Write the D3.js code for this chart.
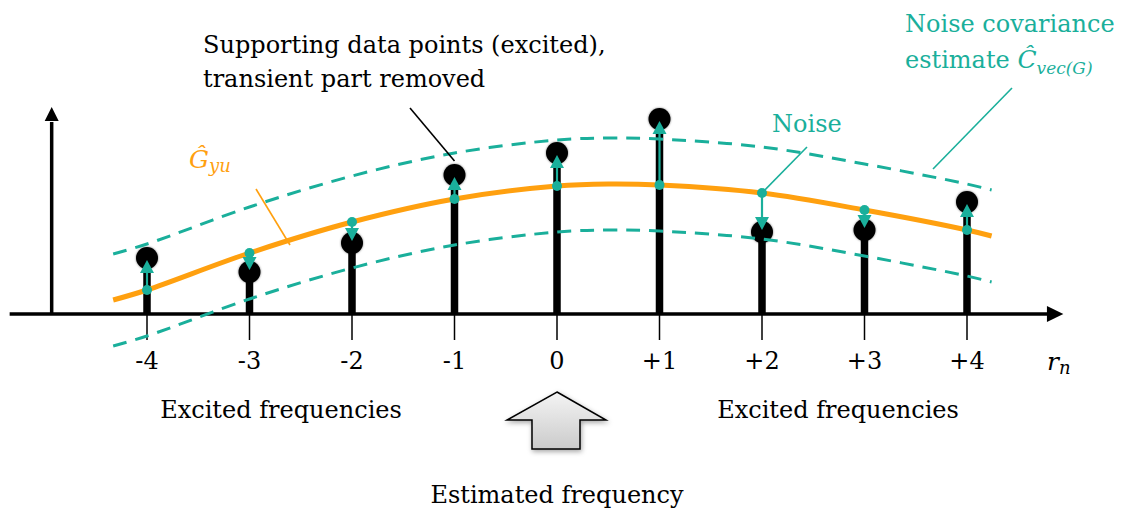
<!DOCTYPE html>
<html>
<head>
<meta charset="utf-8">
<script src="https://cdn.jsdelivr.net/npm/d3@7"></script>
<style>
  body { margin: 0; background: #fff; }
  svg { display: block; }
  text { font-family: "DejaVu Serif", "Liberation Serif", serif; }
</style>
</head>
<body>
<svg id="chart" width="1121" height="514"></svg>
<script>
// frequency lines r_n around the estimated frequency
const lines = [-4, -3, -2, -1, 0, 1, 2, 3, 4]
const lineLabels = ["-4", "-3", "-2", "-1", "0", "+1", "+2", "+3", "+4"]
// measured (excited) data points
const measured = [5.6, 4.2, 7.1, 13.9, 16.1, 19.5, 8.2, 8.4, 11.2]
// local estimate G_yu at each line
const estimateAtLines = [2.4, 6.1, 9.2, 11.5, 12.8, 12.9, 12.1, 10.4, 8.4]
// smooth estimate curve samples
const curveR = [-4.33, -4, -3, -2, -1, 0, 0.5, 1, 2, 3, 4, 4.24]
const curveV = [1.4, 2.4, 6.1, 9.2, 11.5, 12.8, 13.0, 12.9, 12.1, 10.4, 8.4, 7.8]
// half width of the noise covariance band
const bandHalf = 4.6

const teal = "#1aaf9b"
const orange = "#ffa00f"

const svg = d3.select("#chart")
const x = d3.scaleLinear().domain([-4, 4]).range([147, 967])
const y = d3.scaleLinear().domain([0, 21]).range([314, 104])

const defs = svg.append("defs")
defs.append("filter").attr("id", "soft")
    .attr("x", "-50%").attr("y", "-50%").attr("width", "200%").attr("height", "200%")
    .append("feDropShadow")
    .attr("dx", 0).attr("dy", 0).attr("stdDeviation", 1.2)
    .attr("flood-color", "#000").attr("flood-opacity", 0.5)
const grad = defs.append("linearGradient").attr("id", "arrowFill")
    .attr("x1", 0).attr("y1", 0).attr("x2", 0).attr("y2", 1)
grad.append("stop").attr("offset", "0%").attr("stop-color", "#f4f4f4")
grad.append("stop").attr("offset", "100%").attr("stop-color", "#cbcbcb")
const shadow = defs.append("filter").attr("id", "shadow")
    .attr("x", "-30%").attr("y", "-30%").attr("width", "160%").attr("height", "160%")
shadow.append("feDropShadow")
    .attr("dx", 1).attr("dy", 2).attr("stdDeviation", 2.5)
    .attr("flood-color", "#000").attr("flood-opacity", 0.35)

// axes
const axisY0 = y(0)
svg.append("line")
    .attr("x1", x(-5.34)).attr("x2", x(4.8))
    .attr("y1", axisY0).attr("y2", axisY0)
    .attr("stroke", "#000").attr("stroke-width", 3.5)
svg.append("path")
    .attr("d", `M${x(4.94)},${axisY0} L${x(4.78)},${axisY0 - 8} L${x(4.78)},${axisY0 + 8} Z`)
    .attr("fill", "#000")
svg.append("line")
    .attr("x1", x(-4.93)).attr("x2", x(-4.93))
    .attr("y1", axisY0).attr("y2", y(19.2))
    .attr("stroke", "#000").attr("stroke-width", 3.5)
svg.append("path")
    .attr("d", `M${x(-4.93)},${y(20.7)} L${x(-4.93) - 7},${y(19.3)} L${x(-4.93) + 7},${y(19.3)} Z`)
    .attr("fill", "#000")

// tick marks below the axis
svg.selectAll("line.tick")
    .data(lines)
    .enter()
    .append("line")
    .attr("class", "tick")
    .attr("x1", d => x(d)).attr("x2", d => x(d))
    .attr("y1", axisY0).attr("y2", axisY0 + 26)
    .attr("stroke", "#000").attr("stroke-width", 1.5)

svg.selectAll("text.tickLabel")
    .data(lines)
    .enter()
    .append("text")
    .attr("class", "tickLabel")
    .attr("x", d => x(d))
    .attr("y", axisY0 + 55)
    .attr("text-anchor", "middle")
    .attr("font-size", 24)
    .text((d, i) => lineLabels[i])

svg.append("text")
    .attr("x", 1047).attr("y", axisY0 + 56)
    .attr("font-size", 25).attr("font-style", "italic")
    .text("r")
    .append("tspan").attr("font-size", 18).attr("dy", 4).text("n")

// stems and data points
svg.selectAll("line.stem")
    .data(lines)
    .enter()
    .append("line")
    .attr("class", "stem")
    .attr("x1", d => x(d)).attr("x2", d => x(d))
    .attr("y1", axisY0).attr("y2", (d, i) => y(measured[i]))
    .attr("stroke", "#000").attr("stroke-width", 7.5)

svg.selectAll("circle.point")
    .data(lines)
    .enter()
    .append("circle")
    .attr("class", "point")
    .attr("cx", d => x(d))
    .attr("cy", (d, i) => y(measured[i]))
    .attr("r", 11)
    .attr("fill", "#000")
    .attr("filter", "url(#soft)")

// estimate curve and covariance band
const curveData = curveR.map((r, i) => ({ r: r, v: curveV[i] }))
const line = d3.line()
    .curve(d3.curveCatmullRom.alpha(0.5))
    .x(d => x(d.r))
    .y(d => y(d.v))

svg.append("path")
    .datum(curveData)
    .attr("fill", "none")
    .attr("stroke", orange)
    .attr("stroke-width", 5)
    .attr("d", line)

const drawBand = sign => {
    svg.append("path")
        .datum(curveData.map(d => ({ r: d.r, v: d.v + sign * bandHalf })))
        .attr("fill", "none")
        .attr("stroke", teal)
        .attr("stroke-width", 3)
        .attr("stroke-dasharray", "14 9")
        .attr("d", line)
}
drawBand(1)
drawBand(-1)

// noise arrows from estimate to measurement
lines.forEach((r, i) => {
    const cx = x(r)
    const y0 = y(estimateAtLines[i])
    const y1 = y(measured[i])
    const dir = y1 < y0 ? -1 : 1
    const tip = y1 - dir * 2
    const base = tip - dir * 13
    svg.append("line")
        .attr("x1", cx).attr("x2", cx)
        .attr("y1", y0).attr("y2", base)
        .attr("stroke", teal).attr("stroke-width", 2.2)
    svg.append("path")
        .attr("d", `M${cx},${tip} L${cx - 7},${base} L${cx + 7},${base} Z`)
        .attr("fill", teal)
    svg.append("circle")
        .attr("cx", cx).attr("cy", y0).attr("r", 5)
        .attr("fill", teal)
})

// annotations
const leader = (x1, y1, x2, y2, color) => {
    svg.append("line")
        .attr("x1", x1).attr("y1", y1).attr("x2", x2).attr("y2", y2)
        .attr("stroke", color).attr("stroke-width", 1.6)
}

svg.append("text")
    .attr("x", 203).attr("y", 53).attr("font-size", 24)
    .text("Supporting data points (excited),")
svg.append("text")
    .attr("x", 203).attr("y", 87).attr("font-size", 24)
    .text("transient part removed")
leader(410, 108, x(-1), y(13.9) - 14, "#000")

const gLabel = svg.append("text")
    .attr("x", 189).attr("y", 168).attr("font-size", 25)
    .attr("font-style", "italic").attr("fill", orange)
gLabel.append("tspan").text("Ĝ")
gLabel.append("tspan").attr("font-size", 18).attr("dy", 4).text("yu")
leader(256, 189, 290, 245, orange)

svg.append("text")
    .attr("x", 772).attr("y", 132).attr("font-size", 24).attr("fill", teal)
    .text("Noise")
leader(807, 147, x(2), y(estimateAtLines[6]), teal)

svg.append("text")
    .attr("x", 905).attr("y", 32).attr("font-size", 24).attr("fill", teal)
    .text("Noise covariance")
const cLabel = svg.append("text")
    .attr("x", 905).attr("y", 68).attr("font-size", 24).attr("fill", teal)
cLabel.append("tspan").text("estimate ")
cLabel.append("tspan").attr("font-style", "italic").attr("font-size", 25).text("Ĉ")
cLabel.append("tspan").attr("font-style", "italic").attr("font-size", 17).attr("dy", 6).text("vec(G)")
leader(1012, 88, 933, 169, teal)

svg.append("text")
    .attr("x", 281).attr("y", 418).attr("font-size", 24).attr("text-anchor", "middle")
    .text("Excited frequencies")
svg.append("text")
    .attr("x", 838).attr("y", 418).attr("font-size", 24).attr("text-anchor", "middle")
    .text("Excited frequencies")
svg.append("text")
    .attr("x", x(0)).attr("y", 503).attr("font-size", 24).attr("text-anchor", "middle")
    .text("Estimated frequency")

// big arrow pointing at the estimated frequency
const ax = x(0)
svg.append("path")
    .attr("d", `M${ax},392 L${ax + 49},420 L${ax + 23},420 L${ax + 23},449 L${ax - 25},449 L${ax - 25},420 L${ax - 50},420 Z`)
    .attr("fill", "url(#arrowFill)")
    .attr("stroke", "#000").attr("stroke-width", 1.5)
    .attr("filter", "url(#shadow)")
</script>
</body>
</html>
